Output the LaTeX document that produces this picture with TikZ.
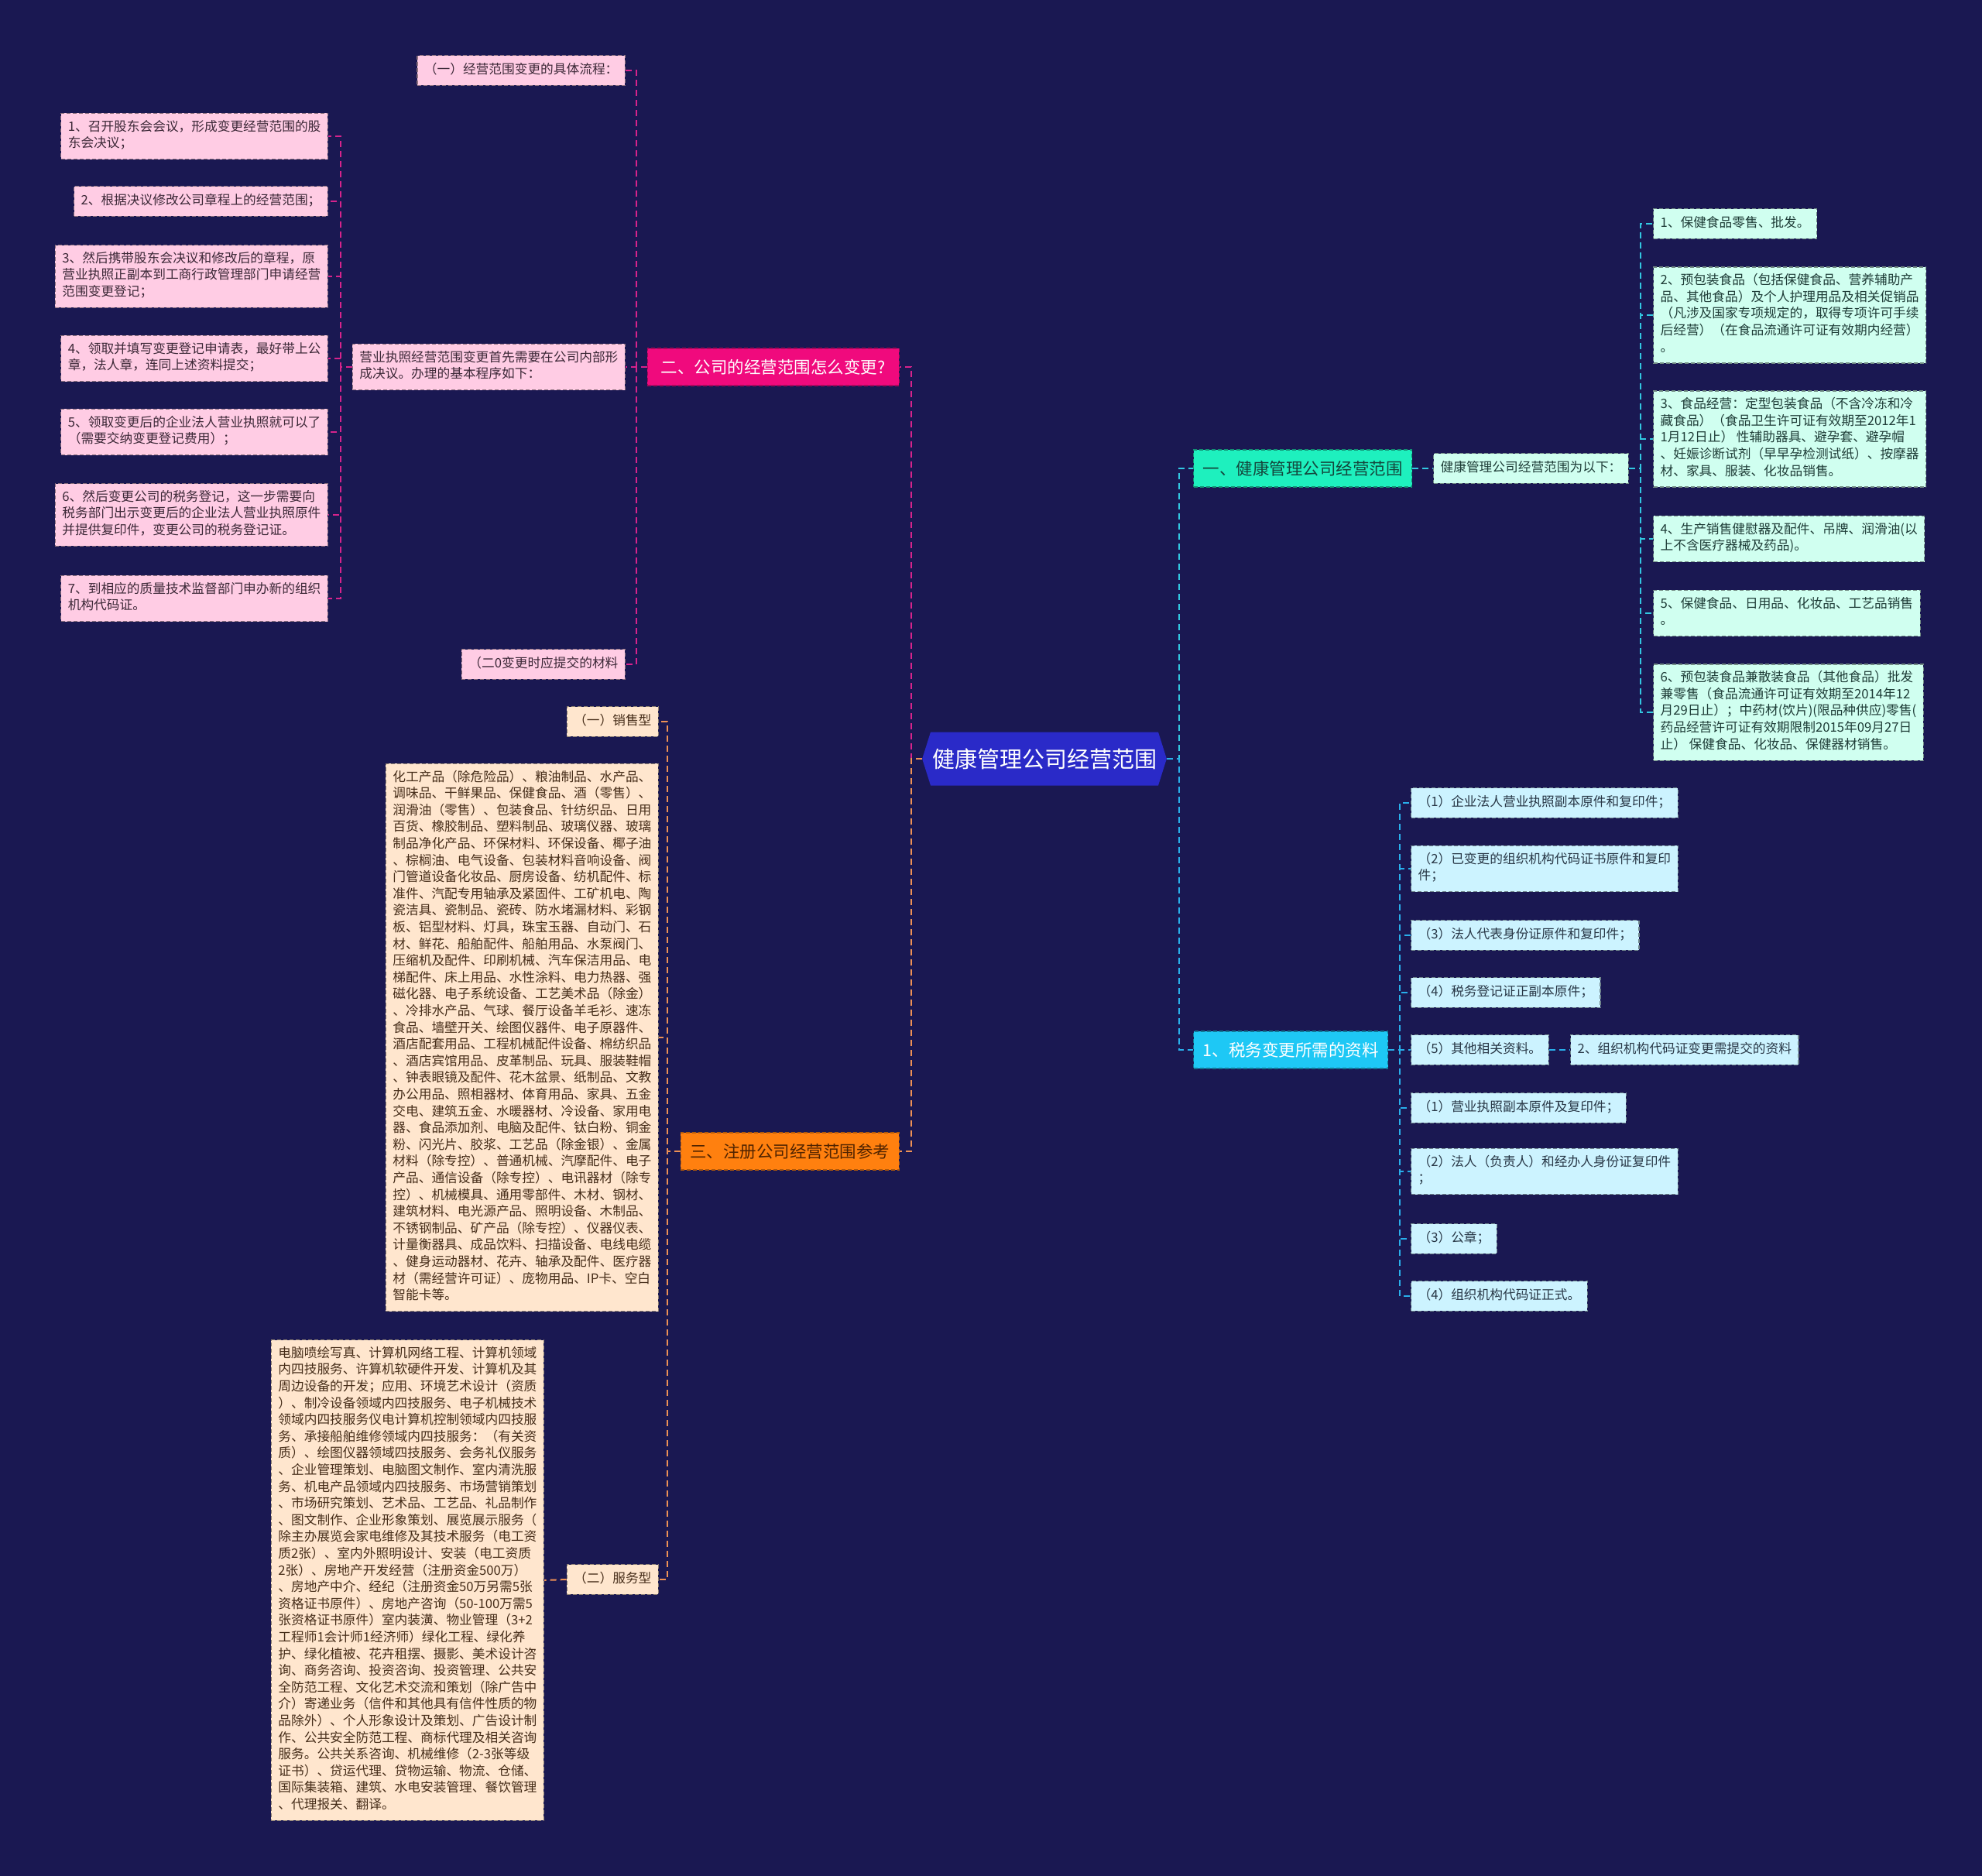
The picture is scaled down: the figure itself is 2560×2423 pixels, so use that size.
\documentclass[tikz,border=0pt]{standalone}
\usepackage{fontspec}
\setmainfont{Noto Sans CJK SC}
\usetikzlibrary{shapes.symbols}
\definecolor{bg}{RGB}{26,24,82}
\definecolor{rootc}{RGB}{42,42,200}
\definecolor{pinkA}{RGB}{240,10,125}
\definecolor{pinkL}{RGB}{255,204,228}
\definecolor{pinkLn}{RGB}{215,35,140}
\definecolor{orA}{RGB}{255,128,15}
\definecolor{orL}{RGB}{255,230,206}
\definecolor{orLn}{RGB}{238,145,85}
\definecolor{tlA}{RGB}{30,240,190}
\definecolor{tlL}{RGB}{208,255,240}
\definecolor{tlLn}{RGB}{50,200,225}
\definecolor{cyA}{RGB}{30,200,245}
\definecolor{cyL}{RGB}{204,243,255}
\definecolor{cyLn}{RGB}{40,175,235}
\definecolor{txP}{RGB}{60,40,55}
\definecolor{txO}{RGB}{70,45,25}
\definecolor{txT}{RGB}{30,60,55}
\definecolor{txC}{RGB}{40,55,70}
\tikzset{
  base/.style={inner xsep=9pt, inner ysep=8.5pt, align=left, line width=1.2pt,
    dash pattern=on 5pt off 3pt, font=\fontsize{16.7}{21.6}\selectfont,
    execute at begin node=\strut, execute at end node=\strut},
  pleaf/.style={base, fill=pinkL, draw=pinkL!55!black, text=txP},
  oleaf/.style={base, fill=orL, draw=orL!55!black, text=txO},
  tleaf/.style={base, fill=tlL, draw=tlL!55!black, text=txT},
  cleaf/.style={base, fill=cyL, draw=cyL!55!black, text=txC},
  lvl/.style={inner xsep=12pt, minimum height=48pt, line width=1.4pt,
    dash pattern=on 5pt off 3pt, font=\fontsize{21.5}{26}\selectfont},
  conn/.style={line width=2pt, dash pattern=on 8pt off 5pt},
}
\begin{document}
\begin{tikzpicture}[x=1pt,y=-1pt]
\fill[bg] (0,0) rectangle (2560,2423);
\useasboundingbox (0,0) rectangle (2560,2423);

% root
\node[signal, signal to=west and east, signal pointer angle=145, fill=rootc, text=white,
  minimum height=69pt, inner xsep=2pt, font=\fontsize{29}{34}\selectfont] (root) at (1349,980) {健康管理公司经营范围};

% level 1
\node[lvl, anchor=east, minimum width=325pt, fill=pinkA, draw=pinkA!70!black, text=white] (n2) at (1162,474) {二、公司的经营范围怎么变更?};
\node[lvl, anchor=east, minimum width=280pt, fill=orA, draw=orA!70!black, text={rgb,255:red,80;green,35;blue,0}] (n3) at (1162,1487) {三、注册公司经营范围参考};
\node[lvl, anchor=west, minimum width=280pt, fill=tlA, draw=tlA!60!black, text={rgb,255:red,20;green,70;blue,60}] (n1) at (1541,605) {一、健康管理公司经营范围};
\node[lvl, anchor=west, minimum width=250pt, fill=cyA, draw=cyA!60!black, text=white] (tax) at (1541,1356) {1、税务变更所需的资料};

% pink branch
\node[pleaf, anchor=east] (p0) at (808,91) {（一）经营范围变更的具体流程：};
\node[pleaf, anchor=east] (pm) at (808,474) {营业执照经营范围变更首先需要在公司内部形\\成决议。办理的基本程序如下：};
\node[pleaf, anchor=east] (pe) at (808,858) {（二0变更时应提交的材料};
\node[pleaf, anchor=east] (i1) at (424,176) {1、召开股东会会议，形成变更经营范围的股\\东会决议；};
\node[pleaf, anchor=east] (i2) at (424,260) {2、根据决议修改公司章程上的经营范围；};
\node[pleaf, anchor=east] (i3) at (424,357) {3、然后携带股东会决议和修改后的章程，原\\营业执照正副本到工商行政管理部门申请经营\\范围变更登记；};
\node[pleaf, anchor=east] (i4) at (424,463) {4、领取并填写变更登记申请表，最好带上公\\章，法人章，连同上述资料提交；};
\node[pleaf, anchor=east] (i5) at (424,558) {5、领取变更后的企业法人营业执照就可以了\\（需要交纳变更登记费用）；};
\node[pleaf, anchor=east] (i6) at (424,665) {6、然后变更公司的税务登记，这一步需要向\\税务部门出示变更后的企业法人营业执照原件\\并提供复印件，变更公司的税务登记证。};
\node[pleaf, anchor=east] (i7) at (424,773) {7、到相应的质量技术监督部门申办新的组织\\机构代码证。};

% orange branch
\node[oleaf, anchor=east] (o1) at (851,932) {（一）销售型};
\node[oleaf, anchor=east] (ob) at (851,1340) {化工产品（除危险品）、粮油制品、水产品、\\调味品、干鲜果品、保健食品、酒（零售）、\\润滑油（零售）、包装食品、针纺织品、日用\\百货、橡胶制品、塑料制品、玻璃仪器、玻璃\\制品净化产品、环保材料、环保设备、椰子油\\、棕榈油、电气设备、包装材料音响设备、阀\\门管道设备化妆品、厨房设备、纺机配件、标\\准件、汽配专用轴承及紧固件、工矿机电、陶\\瓷洁具、瓷制品、瓷砖、防水堵漏材料、彩钢\\板、铝型材料、灯具，珠宝玉器、自动门、石\\材、鲜花、船舶配件、船舶用品、水泵阀门、\\压缩机及配件、印刷机械、汽车保洁用品、电\\梯配件、床上用品、水性涂料、电力热器、强\\磁化器、电子系统设备、工艺美术品（除金）\\、冷排水产品、气球、餐厅设备羊毛衫、速冻\\食品、墙壁开关、绘图仪器件、电子原器件、\\酒店配套用品、工程机械配件设备、棉纺织品\\、酒店宾馆用品、皮革制品、玩具、服装鞋帽\\、钟表眼镜及配件、花木盆景、纸制品、文教\\办公用品、照相器材、体育用品、家具、五金\\交电、建筑五金、水暖器材、冷设备、家用电\\器、食品添加剂、电脑及配件、钛白粉、铜金\\粉、闪光片、胶浆、工艺品（除金银）、金属\\材料（除专控）、普通机械、汽摩配件、电子\\产品、通信设备（除专控）、电讯器材（除专\\控）、机械模具、通用零部件、木材、钢材、\\建筑材料、电光源产品、照明设备、木制品、\\不锈钢制品、矿产品（除专控）、仪器仪表、\\计量衡器具、成品饮料、扫描设备、电线电缆\\、健身运动器材、花卉、轴承及配件、医疗器\\材（需经营许可证）、庞物用品、IP卡、空白\\智能卡等。};
\node[oleaf, anchor=east] (o2) at (851,2040) {（二）服务型};
\node[oleaf, anchor=east] (sb) at (703,2041) {电脑喷绘写真、计算机网络工程、计算机领域\\内四技服务、许算机软硬件开发、计算机及其\\周边设备的开发；应用、环境艺术设计（资质\\）、制冷设备领域内四技服务、电子机械技术\\领域内四技服务仪电计算机控制领域内四技服\\务、承接船舶维修领域内四技服务：（有关资\\质）、绘图仪器领域四技服务、会务礼仪服务\\、企业管理策划、电脑图文制作、室内清洗服\\务、机电产品领域内四技服务、市场营销策划\\、市场研究策划、艺术品、工艺品、礼品制作\\、图文制作、企业形象策划、展览展示服务（\\除主办展览会家电维修及其技术服务（电工资\\质2张）、室内外照明设计、安装（电工资质\\2张）、房地产开发经营（注册资金500万）\\、房地产中介、经纪（注册资金50万另需5张\\资格证书原件）、房地产咨询（50-100万需5\\张资格证书原件）室内装潢、物业管理（3+2\\工程师1会计师1经济师）绿化工程、绿化养\\护、绿化植被、花卉租摆、摄影、美术设计咨\\询、商务咨询、投资咨询、投资管理、公共安\\全防范工程、文化艺术交流和策划（除广告中\\介）寄递业务（信件和其他具有信件性质的物\\品除外）、个人形象设计及策划、广告设计制\\作、公共安全防范工程、商标代理及相关咨询\\服务。公共关系咨询、机械维修（2-3张等级\\证书）、贷运代理、贷物运输、物流、仓储、\\国际集装箱、建筑、水电安装管理、餐饮管理\\、代理报关、翻译。};

% teal branch
\node[tleaf, anchor=west] (h0) at (1851,605) {健康管理公司经营范围为以下：};
\node[tleaf, anchor=west] (r1) at (2135,289) {1、保健食品零售、批发。};
\node[tleaf, anchor=west] (r2) at (2135,407) {2、预包装食品（包括保健食品、营养辅助产\\品、其他食品）及个人护理用品及相关促销品\\（凡涉及国家专项规定的，取得专项许可手续\\后经营）（在食品流通许可证有效期内经营）\\。};
\node[tleaf, anchor=west] (r3) at (2135,567) {3、食品经营：定型包装食品（不含冷冻和冷\\藏食品）（食品卫生许可证有效期至2012年1\\1月12日止） 性辅助器具、避孕套、避孕帽\\、妊娠诊断试剂（早早孕检测试纸）、按摩器\\材、家具、服装、化妆品销售。};
\node[tleaf, anchor=west] (r4) at (2135,696) {4、生产销售健慰器及配件、吊牌、润滑油(以\\上不含医疗器械及药品)。};
\node[tleaf, anchor=west] (r5) at (2135,792) {5、保健食品、日用品、化妆品、工艺品销售\\。};
\node[tleaf, anchor=west] (r6) at (2135,920) {6、预包装食品兼散装食品（其他食品）批发\\兼零售（食品流通许可证有效期至2014年12\\月29日止）；中药材(饮片)(限品种供应)零售(\\药品经营许可证有效期限制2015年09月27日\\止） 保健食品、化妆品、保健器材销售。};

% cyan branch
\node[cleaf, anchor=west] (t1) at (1822,1037) {（1）企业法人营业执照副本原件和复印件；};
\node[cleaf, anchor=west] (t2) at (1822,1122) {（2）已变更的组织机构代码证书原件和复印\\件；};
\node[cleaf, anchor=west] (t3) at (1822,1208) {（3）法人代表身份证原件和复印件；};
\node[cleaf, anchor=west] (t4) at (1822,1282) {（4）税务登记证正副本原件；};
\node[cleaf, anchor=west] (t5) at (1822,1356) {（5）其他相关资料。};
\node[cleaf, anchor=west] (t5a) at (2028,1356) {2、组织机构代码证变更需提交的资料};
\node[cleaf, anchor=west] (t6) at (1822,1431) {（1）营业执照副本原件及复印件；};
\node[cleaf, anchor=west] (t7) at (1822,1513) {（2）法人（负责人）和经办人身份证复印件\\；};
\node[cleaf, anchor=west] (t8) at (1822,1600) {（3）公章；};
\node[cleaf, anchor=west] (t9) at (1822,1674) {（4）组织机构代码证正式。};

% connectors
\draw[conn, pinkLn] (root.west) -- ++(-14,0) |- (n2.east);
\draw[conn, orLn] (root.west) -- ++(-14,0) |- (n3.east);
\draw[conn, tlLn] (root.east) -- ++(16,0) |- (n1.west);
\draw[conn, cyLn] (root.east) -- ++(16,0) |- (tax.west);

\foreach \c in {p0,pm,pe} \draw[conn, pinkLn] (n2.west) -- ++(-14,0) |- (\c.east);
\foreach \c in {i1,i2,i3,i4,i5,i6,i7} \draw[conn, pinkLn] (pm.west) -- ++(-15,0) |- (\c.east);

\foreach \c in {o1,ob,o2} \draw[conn, orLn] (n3.west) -- ++(-17,0) |- (\c.east);
\draw[conn, orLn] (o2.west) -- (sb.east);

\draw[conn, tlLn] (n1.east) -- (h0.west);
\foreach \c in {r1,r2,r3,r4,r5,r6} \draw[conn, tlLn] (h0.east) -- ++(15,0) |- (\c.west);

\foreach \c in {t1,t2,t3,t4,t5,t6,t7,t8,t9} \draw[conn, cyLn] (tax.east) -- ++(15,0) |- (\c.west);
\draw[conn, cyLn] (t5.east) -- (t5a.west);
\end{tikzpicture}
\end{document}
